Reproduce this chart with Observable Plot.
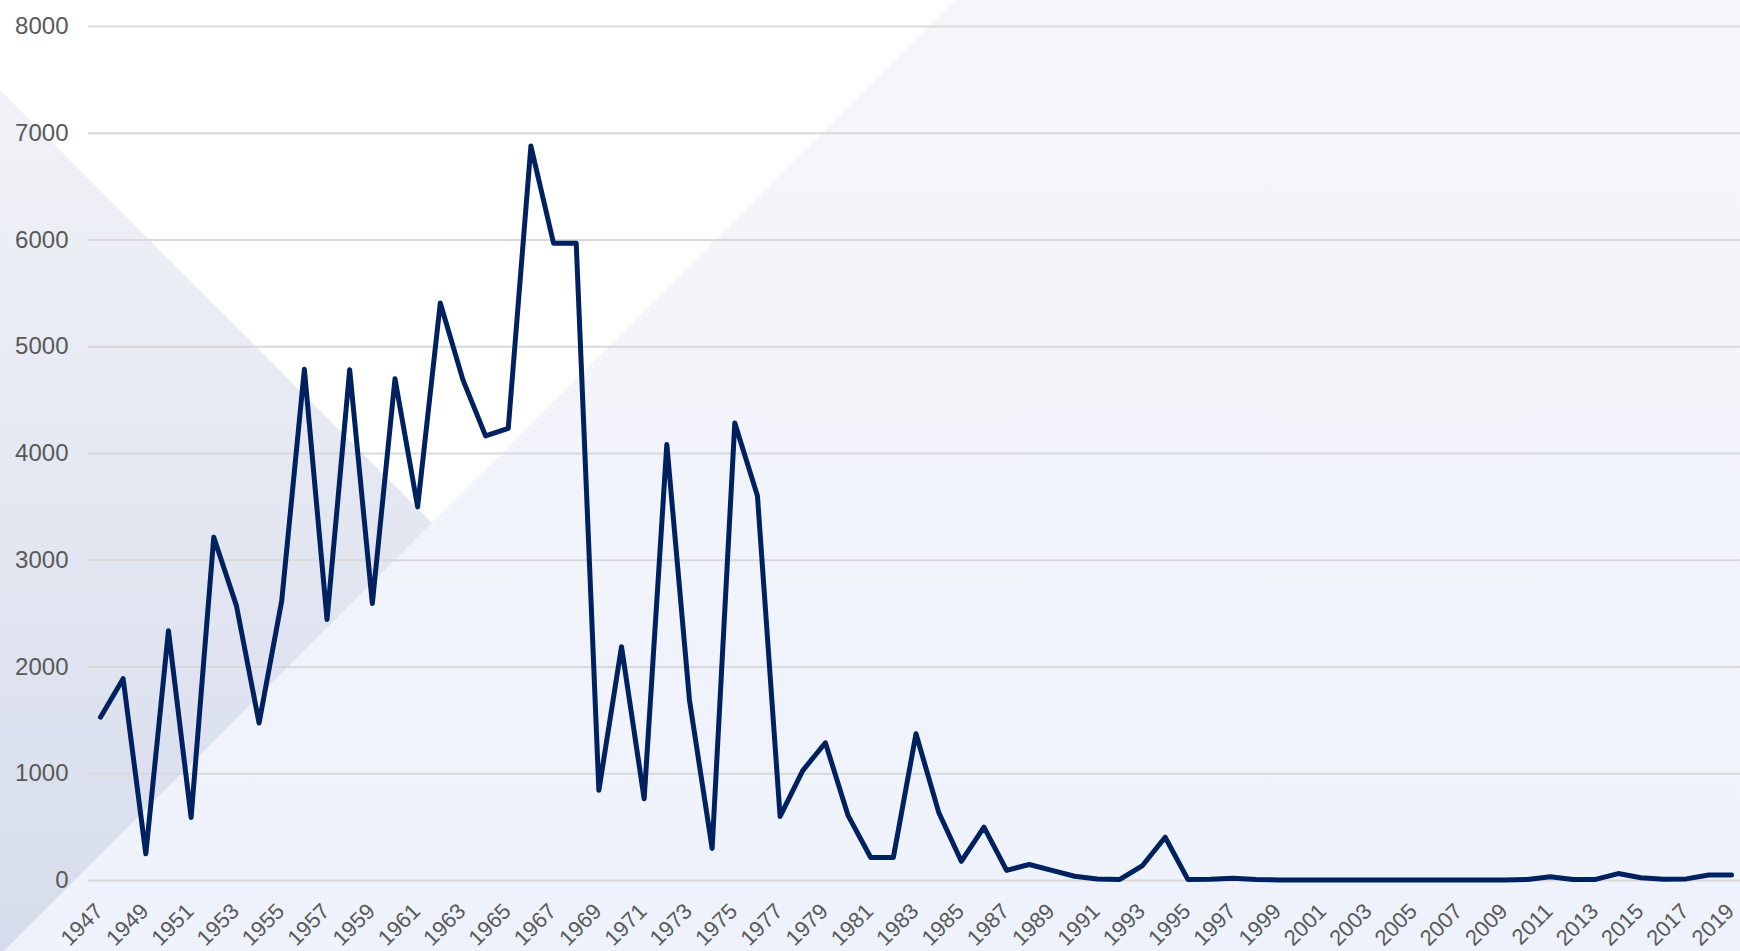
<!DOCTYPE html>
<html>
<head>
<meta charset="utf-8">
<script src="https://cdn.jsdelivr.net/npm/d3@7"></script>
<script src="https://cdn.jsdelivr.net/npm/@observablehq/plot@0.6"></script>
<style>
  html, body { margin: 0; padding: 0; background: #ffffff; }
  #chart { width: 1740px; height: 951px; overflow: hidden; }
</style>
</head>
<body>
<div id="chart"></div>
<script>
const years = [1947,1948,1949,1950,1951,1952,1953,1954,1955,1956,1957,1958,1959,1960,1961,1962,1963,1964,1965,1966,1967,1968,1969,1970,1971,1972,1973,1974,1975,1976,1977,1978,1979,1980,1981,1982,1983,1984,1985,1986,1987,1988,1989,1990,1991,1992,1993,1994,1995,1996,1997,1998,1999,2000,2001,2002,2003,2004,2005,2006,2007,2008,2009,2010,2011,2012,2013,2014,2015,2016,2017,2018,2019];
const values = [1530,1890,250,2340,590,3215,2575,1475,2620,4790,2445,4785,2595,4700,3500,5410,4690,4165,4235,6880,5970,5970,845,2190,765,4085,1690,300,4285,3605,600,1030,1290,610,215,215,1375,640,180,500,95,150,95,40,15,10,140,405,10,12,20,10,5,5,5,5,5,5,5,5,5,5,5,10,35,10,10,65,25,12,15,52,52];
const yTicks = [0,1000,2000,3000,4000,5000,6000,7000,8000];
const xTickLabels = [1947,1949,1951,1953,1955,1957,1959,1961,1963,1965,1967,1969,1971,1973,1975,1977,1979,1981,1983,1985,1987,1989,1991,1993,1995,1997,1999,2001,2003,2005,2007,2009,2011,2013,2015,2017,2019];

const data = years.map((year, i) => ({year, value: values[i]}));

const svg = Plot.plot({
  width: 1740,
  height: 951,
  marginTop: 26,
  marginBottom: 71,
  marginLeft: 88,
  marginRight: 0,
  style: {
    fontFamily: "'Liberation Sans', Arial, sans-serif",
    fontSize: "22px",
    color: "#595959",
    background: "none",
    overflow: "visible"
  },
  x: {type: "linear", domain: [1947, 2019], range: [100, 1731], axis: null},
  y: {domain: [0, 8000], range: [880, 26], axis: null},
  marks: [
    Plot.ruleY(yTicks, {stroke: "#d9d9d9", strokeWidth: 2}),
    Plot.text(yTicks, {
      x: () => 1947, y: d => d, text: d => String(d),
      textAnchor: "end", dx: -32, fill: "#595959", fontSize: 24
    }),
    Plot.text(xTickLabels, {
      x: d => d, y: () => 0, text: d => String(d),
      rotate: -45, textAnchor: "end", lineAnchor: "middle",
      dx: -1, dy: 27, fill: "#595959", fontSize: 22
    }),
    Plot.line(data, {
      x: "year", y: "value", stroke: "#00215f", strokeWidth: 5,
      strokeLinejoin: "round", strokeLinecap: "round"
    })
  ]
});

// decorative background
const root = d3.select(svg);
const defs = root.insert("defs", ":first-child");
const g1 = defs.append("linearGradient").attr("id", "gDark").attr("x1", 0).attr("y1", 0).attr("x2", 0).attr("y2", 1);
g1.append("stop").attr("offset", "0%").attr("stop-color", "#f1f2f7");
g1.append("stop").attr("offset", "45%").attr("stop-color", "#e4e8f2");
g1.append("stop").attr("offset", "100%").attr("stop-color", "#d7dcec");
const g2 = defs.append("linearGradient").attr("id", "gLight").attr("x1", 0).attr("y1", 0).attr("x2", 0).attr("y2", 1);
g2.append("stop").attr("offset", "0%").attr("stop-color", "#f5f6f9");
g2.append("stop").attr("offset", "100%").attr("stop-color", "#eef2fc");
const bg = root.insert("g", "defs + *");
bg.append("rect").attr("x", 0).attr("y", 0).attr("width", 1740).attr("height", 951).attr("fill", "#ffffff");
bg.append("polygon").attr("points", "955,0 1740,0 1740,951 4,951").attr("fill", "url(#gLight)");
bg.append("polygon").attr("points", "0,90 432,523 0,955").attr("fill", "url(#gDark)");

document.getElementById("chart").appendChild(svg);
</script>
</body>
</html>
